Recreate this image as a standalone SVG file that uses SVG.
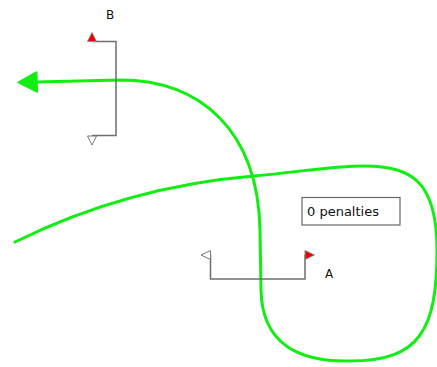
<svg xmlns="http://www.w3.org/2000/svg" width="437" height="367" viewBox="0 0 437 367">
<style>
.gate{fill:none;stroke:#6e6e6e;stroke-width:1.5}
.red{fill:#ee0000;stroke:#888;stroke-width:1}
.white{fill:#fff;stroke:#777;stroke-width:1}
.lbl{font-family:"DejaVu Sans",Verdana,sans-serif;font-size:12px;fill:#111}
.course{fill:none;stroke:#11ee11;stroke-width:3;stroke-linecap:round;stroke-linejoin:round}
</style>
<defs>
<marker id="ah" markerUnits="userSpaceOnUse" markerWidth="22" markerHeight="22" viewBox="0 0 22 22" refX="3" refY="11" orient="auto">
<path d="M2,1 L21,11 L2,21 Z" fill="#11ee11" stroke="#11ee11" stroke-width="1.5" stroke-linejoin="round"/>
</marker>
</defs>
<rect width="437" height="367" fill="#fff"/>
<g id="connectors">
<path class="course" marker-end="url(#ah)" d="M15,242 C100,200 180,182 254,176 C300,172 330,166 365,166 C410,166 437,180 437,250 C437,330 420,361 350,361 C300,362 262,345 261,290 L260,230 C258,130 200,80 120,80 L36,82"/>
</g>
<g id="gateB">
<path class="gate" d="M92,41.5 H116 V135.5 H92"/>
<polygon class="red" points="87.5,41.5 96.5,41.5 92,32.5"/>
<polygon class="white" points="87.5,136 96.5,136 92,145"/>
<text class="lbl" x="110" y="19" text-anchor="middle">B</text>
</g>
<g id="gateA">
<path class="gate" d="M210.5,255 V279 H305 V255"/>
<polygon class="white" points="210.5,250.5 210.5,259.5 201,255"/>
<polygon class="red" points="305,250.5 305,259.5 314.5,255"/>
<text class="lbl" x="329" y="278" text-anchor="middle">A</text>
</g>
<g id="penalties">
<rect x="302" y="197.5" width="98" height="27.5" fill="#fff" stroke="#666" stroke-width="1.2"/>
<text x="307" y="216" font-family="DejaVu Sans, Verdana, sans-serif" font-size="13" fill="#111">0 penalties</text>
</g>
</svg>
